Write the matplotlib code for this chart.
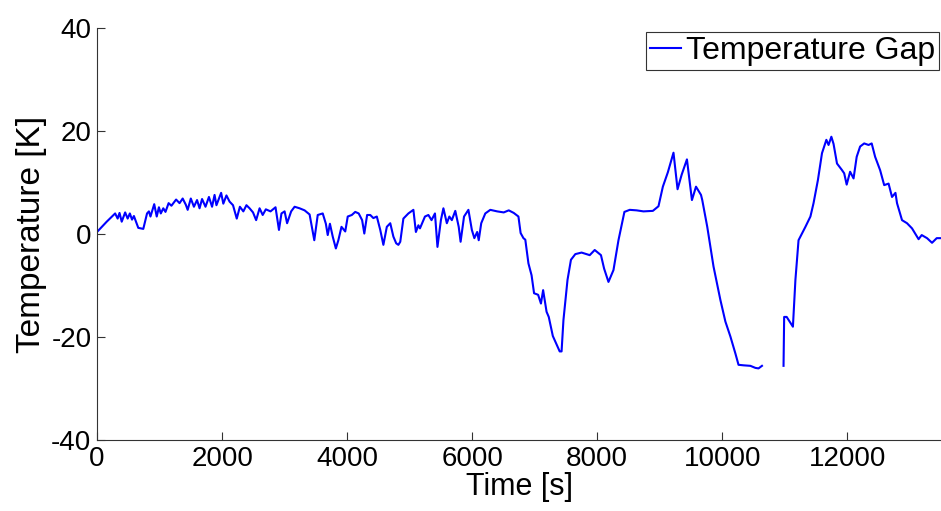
import numpy as np
import matplotlib
matplotlib.use("Agg")
import matplotlib.pyplot as plt

# Temperature gap over time (NaN = data gap)
time_s = [
    0, 155, 290, 330, 360, 395, 450, 490, 525, 560, 590, 660, 740, 800, 830, 855,
    915, 955, 990, 1020, 1060, 1095, 1145, 1190, 1265, 1320, 1370, 1420, 1450, 1500,
    1550, 1600, 1640, 1680, 1735, 1790, 1840, 1880, 1910, 1985, 2020, 2070, 2120,
    2175, 2235, 2285, 2340, 2390, 2440, 2495, 2545, 2600, 2650, 2700, 2775, 2855,
    2910, 2950, 3000, 3040, 3105, 3160, 3240, 3320, 3400, 3460, 3475, 3530, 3610,
    3660, 3690, 3725, 3770, 3820, 3860, 3910, 3970, 4010, 4075, 4130, 4185, 4240,
    4275, 4320, 4370, 4420, 4475, 4530, 4580, 4635, 4690, 4740, 4785, 4820, 4850,
    4900, 4980, 5060, 5100, 5140, 5165, 5245, 5300, 5350, 5405, 5445, 5500, 5540,
    5595, 5635, 5675, 5730, 5785, 5815, 5870, 5940, 5995, 6035, 6080, 6105, 6145,
    6210, 6290, 6400, 6505, 6585, 6665, 6740, 6775, 6820, 6850, 6900, 6950, 6990,
    7055, 7100, 7135, 7190, 7225, 7290, 7400, 7430, 7460, 7525, 7580, 7650, 7750,
    7880, 7960, 8060, 8110, 8180, 8260, 8340, 8435, 8520, 8630, 8740, 8890, 8980,
    9050, 9130, 9220, 9285, 9350, 9435, 9515, 9580, 9660, 9680, 9760, 9860, 9970,
    10050, 10130, 10210, 10260, 10340, 10450, 10530, 10580, 10635,
    10800,
    10980, 10990, 11030, 11130, 11170, 11220, 11330, 11410, 11460, 11530, 11595,
    11665, 11700, 11745, 11780, 11835, 11910, 11950, 11990, 12045, 12100, 12150,
    12205, 12270, 12340, 12390, 12445, 12525, 12590, 12660, 12715, 12770, 12795,
    12875, 12955, 13035, 13140, 13190, 13275, 13355, 13430, 13500,
]
temp_gap = [
    0.4, 2.4, 4.0, 3.0, 4.1, 2.4, 4.2, 3.0, 4.0, 2.8, 3.5, 1.2, 1.0, 4.0, 4.4, 3.4,
    5.8, 3.4, 5.2, 4.0, 5.0, 4.3, 6.0, 5.5, 6.7, 6.0, 6.9, 5.7, 4.7, 6.9,
    5.3, 6.6, 5.0, 6.8, 5.3, 7.2, 5.3, 7.6, 5.6, 8.0, 5.9, 7.5, 6.3,
    5.6, 3.0, 5.3, 4.4, 5.6, 5.0, 4.2, 2.7, 5.0, 3.7, 4.8, 4.4, 5.2,
    0.8, 4.0, 4.4, 2.1, 4.4, 5.3, 5.0, 4.6, 3.8, -0.2, -1.2, 3.7, 4.0,
    2.0, -0.2, 2.0, -0.5, -2.8, -1.2, 1.4, 0.5, 3.4, 3.7, 4.3, 4.0, 2.7,
    0.1, 3.7, 3.7, 3.1, 3.4, 0.8, -2.1, 1.4, 2.1, -0.5, -1.8, -2.1, -1.5,
    3.0, 4.0, 4.7, 0.4, 1.7, 1.1, 3.4, 3.7, 2.7, 4.0, -2.5, 2.7, 5.0,
    2.1, 3.4, 2.7, 4.5, 1.4, -1.5, 3.4, 4.7, 0.8, -0.8, 0.4, -1.2, 2.1,
    4.0, 4.7, 4.4, 4.2, 4.6, 4.1, 3.4, 0.2, -0.8, -1.1, -5.7, -8.0, -11.5,
    -11.8, -13.5, -10.9, -15.1, -16.1, -19.8, -22.8, -22.8, -16.7, -8.9, -5.0, -3.9, -3.6,
    -4.1, -3.1, -4.1, -6.7, -9.3, -7.0, -1.2, 4.3, 4.7, 4.6, 4.4, 4.5, 5.4,
    9.2, 12.0, 15.8, 8.7, 11.5, 14.5, 6.6, 9.2, 7.6, 6.6, 1.4, -6.3, -12.8,
    -17.0, -19.9, -23.2, -25.4, -25.5, -25.6, -26.0, -26.1, -25.6,
    np.nan,
    -25.6, -16.1, -16.1, -18.0, -8.9, -1.2, 1.4, 3.4, 6.0, 10.5, 15.7,
    18.3, 17.3, 18.9, 17.5, 13.7, 12.5, 11.8, 9.6, 12.1, 10.8, 15.0,
    17.0, 17.6, 17.3, 17.6, 15.0, 12.4, 9.5, 9.8, 7.2, 8.0, 6.0,
    2.7, 2.1, 1.1, -1.0, -0.2, -0.8, -1.7, -0.8, -0.8,
]
x_ticks = [0, 2000, 4000, 6000, 8000, 10000, 12000]
y_ticks = [-40, -20, 0, 20, 40]

plt.rcParams["font.family"] = ["Liberation Sans", "DejaVu Sans"]
plt.rcParams["axes.unicode_minus"] = False

fig = plt.figure(figsize=(9.41, 5.11), dpi=100)
ax = fig.add_axes([0.1031, 0.139, 0.897, 0.806])

ax.plot(time_s, temp_gap, color="#0000ff", linewidth=1.5, label="Temperature Gap")

ax.set_xlim(0, 13500)
ax.set_ylim(-40, 40)
ax.set_xticks(x_ticks)
ax.set_yticks(y_ticks)
ax.tick_params(direction="in", length=6, width=0.8, labelsize=20, pad=4, color="#333333")
for s in ("top", "right"):
    ax.spines[s].set_visible(False)
for s in ("left", "bottom"):
    ax.spines[s].set_color("#333333")
    ax.spines[s].set_linewidth(0.8)

ax.set_xlabel("Time [s]", fontsize=22, labelpad=0)
ax.set_ylabel("Temperature [K]", fontsize=24, labelpad=3)

leg = ax.legend(loc="upper left", bbox_to_anchor=(0.650, 0.990), borderaxespad=0,
                fontsize=23, handlelength=1.0, handletextpad=0.15, borderpad=0.12,
                fancybox=False, framealpha=1)
leg.get_frame().set_edgecolor("#333333")
leg.get_frame().set_linewidth(0.8)

fig.savefig("out.png", dpi=100)
